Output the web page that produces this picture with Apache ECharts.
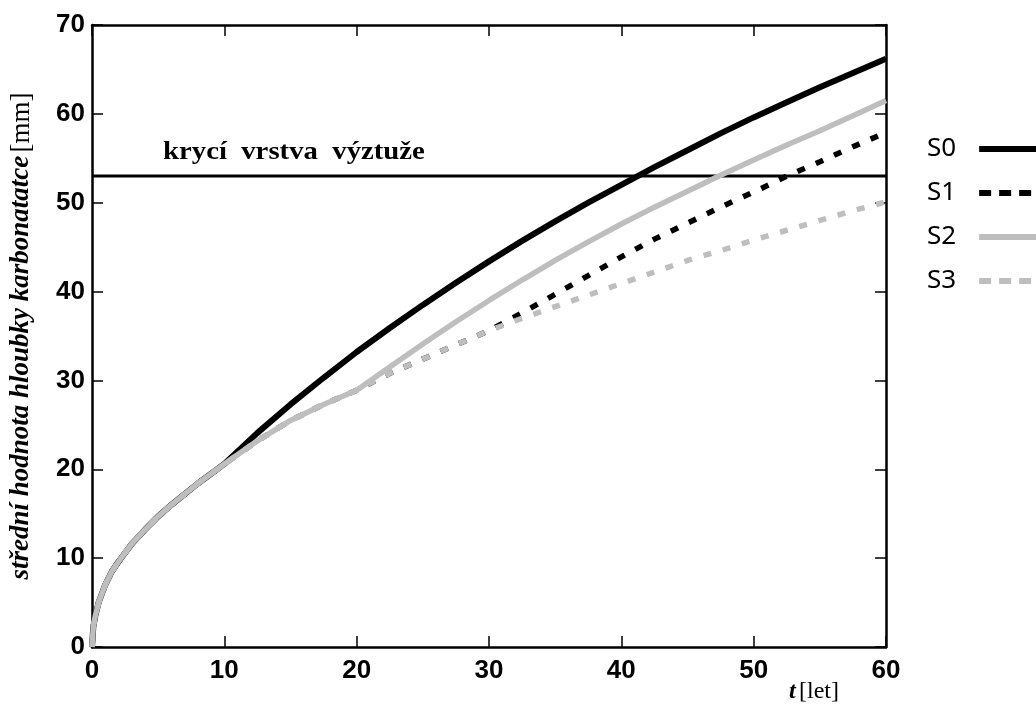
<!DOCTYPE html>
<html>
<head>
<meta charset="utf-8">
<script src="https://cdn.jsdelivr.net/npm/echarts@6/dist/echarts.min.js"></script>
<style>
  html, body { margin: 0; padding: 0; background: #fff; }
  #chart { width: 1036px; height: 709px; }
</style>
</head>
<body>
<div id="chart"></div>
<script>
// t [let]
const years = [0, 0.1, 0.25, 0.5, 1, 1.5, 2, 3, 4, 5, 6, 7, 8, 9, 10,
  12.5, 15, 17.5, 20, 22.5, 25, 27.5, 30, 32.5, 35, 37.5, 40, 42.5, 45, 47.5, 50, 52.5, 55, 57.5, 60]

// střední hodnota hloubky karbonatace [mm]
const s0 = [0, 2.3, 3.5, 5.0, 7.0, 8.5, 9.6, 11.6, 13.2, 14.7, 16.0, 17.2, 18.4, 19.5, 20.6,
  24.1, 27.3, 30.3, 33.2, 35.9, 38.5, 41.0, 43.4, 45.7, 47.9, 50.0, 52.0, 54.0, 55.9, 57.8, 59.6, 61.3, 63.0, 64.6, 66.2]
const s1 = [0, 2.3, 3.5, 5.0, 7.0, 8.5, 9.6, 11.6, 13.2, 14.7, 16.0, 17.2, 18.4, 19.5, 20.6,
  23.2, 25.5, 27.3, 28.9, 30.8, 32.4, 34.0, 35.6, 37.6, 39.7, 41.8, 43.9, 45.9, 47.7, 49.5, 51.2, 53.0, 54.6, 56.3, 57.9]
const s2 = [0, 2.3, 3.5, 5.0, 7.0, 8.5, 9.6, 11.6, 13.2, 14.7, 16.0, 17.2, 18.4, 19.5, 20.6,
  23.2, 25.5, 27.3, 28.9, 31.5, 34.1, 36.6, 39.0, 41.3, 43.5, 45.6, 47.6, 49.5, 51.3, 53.1, 54.8, 56.5, 58.1, 59.8, 61.5]
const s3 = [0, 2.3, 3.5, 5.0, 7.0, 8.5, 9.6, 11.6, 13.2, 14.7, 16.0, 17.2, 18.4, 19.5, 20.6,
  23.2, 25.5, 27.3, 28.9, 30.8, 32.4, 34.0, 35.6, 37.0, 38.3, 39.6, 40.9, 42.2, 43.5, 44.6, 45.8, 46.9, 48.0, 49.1, 50.1]

const coverDepth = 53
const coverLabel = 'krycí  vrstva  výztuže'
const seriesNames = ['S0', 'S1', 'S2', 'S3']

const grey = '#bebebe'
const serif = '"Liberation Serif", "DejaVu Serif", serif'
const sans = '"Liberation Sans", Arial, sans-serif'

const pairs = (vals) => years.map((t, i) => [t, vals[i]])

const axisLine = { show: true, onZero: false, lineStyle: { color: '#000', width: 2.5 } }
const axisTick = { show: true, inside: true, length: 11, lineStyle: { color: '#000', width: 1.5 } }

const chart = echarts.init(document.getElementById('chart'))

chart.setOption({
  animation: false,
  backgroundColor: '#fff',
  grid: { left: 89, right: 150, top: 25, bottom: 62 },
  legend: {
    orient: 'vertical',
    left: 922,
    top: 131,
    align: 'right',
    itemWidth: 62,
    itemHeight: 12,
    itemGap: 18,
    itemStyle: { opacity: 0 },
    textStyle: { fontFamily: '"Noto Sans", sans-serif', fontSize: 26, color: '#000', padding: [0, 18, 0, 0] },
    data: [
      { name: 'S0', lineStyle: { width: 6, color: '#000' } },
      { name: 'S1', lineStyle: { width: 6, color: '#000', type: [12, 8] } },
      { name: 'S2', lineStyle: { width: 6, color: grey } },
      { name: 'S3', lineStyle: { width: 6, color: grey, type: [12, 8] } }
    ]
  },
  xAxis: [
    {
      type: 'value', min: 0, max: 60, interval: 10, position: 'bottom',
      axisLine, axisTick, splitLine: { show: false },
      axisLabel: { margin: 11, color: '#000', fontFamily: sans, fontWeight: 'bold', fontSize: 26 }
    },
    {
      type: 'value', min: 0, max: 60, interval: 10, position: 'top',
      axisLine, axisTick, splitLine: { show: false }, axisLabel: { show: false }
    }
  ],
  yAxis: [
    {
      type: 'value', min: 0, max: 70, interval: 10, position: 'left',
      axisLine, axisTick, splitLine: { show: false },
      axisLabel: { margin: 7, color: '#000', fontFamily: sans, fontWeight: 'bold', fontSize: 26 },
      name: '{i|střední hodnota hloubky karbonatatce} {n|[mm]}',
      nameLocation: 'middle',
      nameRotate: 90,
      nameGap: 57,
      nameTextStyle: {
        rich: {
          i: { fontFamily: serif, fontStyle: 'italic', fontWeight: 'bold', fontSize: 27, color: '#000' },
          n: { fontFamily: serif, fontSize: 27, color: '#000' }
        }
      }
    },
    {
      type: 'value', min: 0, max: 70, interval: 10, position: 'right',
      axisLine, axisTick, splitLine: { show: false }, axisLabel: { show: false }
    }
  ],
  graphic: [
    {
      type: 'text', left: 163, top: 140, scaleX: 1.15,
      style: { text: coverLabel, font: 'bold 25px ' + serif, fill: '#000' }
    },
    {
      type: 'text', left: 789, top: 680,
      style: {
        text: '{i|t} {n|[let]}',
        rich: {
          i: { fontFamily: serif, fontStyle: 'italic', fontWeight: 'bold', fontSize: 24, fill: '#000' },
          n: { fontFamily: serif, fontSize: 24, fill: '#000' }
        }
      }
    }
  ],
  series: [
    {
      name: 'cover', type: 'line', symbol: 'none', silent: true,
      data: [[0, coverDepth], [60, coverDepth]],
      lineStyle: { color: '#000', width: 3 }
    },
    {
      name: seriesNames[0], type: 'line', symbol: 'none', data: pairs(s0),
      lineStyle: { color: '#000', width: 6 }, itemStyle: { color: '#000' }
    },
    {
      name: seriesNames[1], type: 'line', symbol: 'none', data: pairs(s1),
      lineStyle: { color: '#000', width: 5.5, type: [8, 12] }, itemStyle: { color: '#000' }
    },
    {
      name: seriesNames[2], type: 'line', symbol: 'none', data: pairs(s2),
      lineStyle: { color: grey, width: 5.5 }, itemStyle: { color: grey }
    },
    {
      name: seriesNames[3], type: 'line', symbol: 'none', data: pairs(s3),
      lineStyle: { color: grey, width: 5.5, type: [8, 12] }, itemStyle: { color: grey }
    }
  ]
})
</script>
</body>
</html>
